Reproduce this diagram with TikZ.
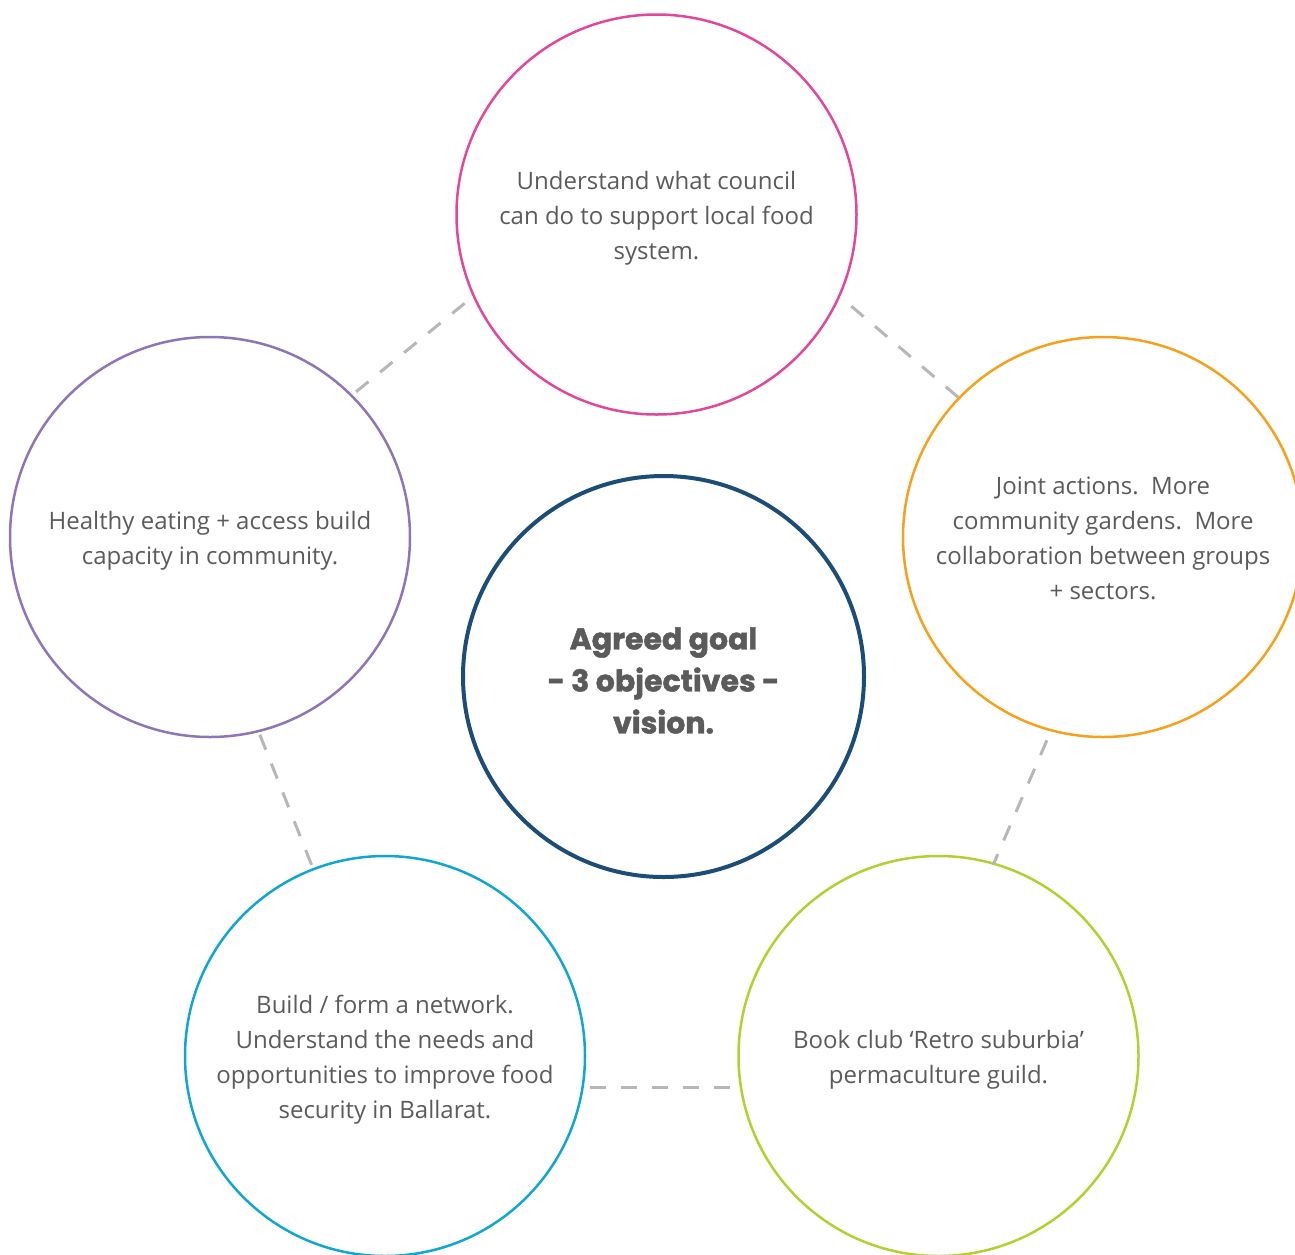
\documentclass[tikz,border=0pt]{standalone}
\usepackage{fontspec}
\setmainfont{Open Sans}
\newfontfamily\headfont{Poppins}[FakeBold=1.6]
\definecolor{txtgray}{HTML}{5B5B5B}
\definecolor{cpink}{HTML}{E2479B}
\definecolor{cpurple}{HTML}{8E75B8}
\definecolor{corange}{HTML}{F5A11C}
\definecolor{cnavy}{HTML}{1B4D76}
\definecolor{ccyan}{HTML}{11A6D2}
\definecolor{clime}{HTML}{B6CE2F}
\definecolor{dashgray}{HTML}{B7B7B7}
\begin{document}
\begin{tikzpicture}[x=1pt,y=-1pt,
  ring/.style={circle,draw,line width=2.5pt,minimum size=400pt,inner sep=0pt,outer sep=0pt},
  hub/.style={ring,line width=4pt,minimum size=401pt},
  note/.style={align=center,text=txtgray,inner sep=0pt,font=\fontsize{24}{35}\selectfont},
  goaltext/.style={note,font=\headfont\bfseries\fontsize{30}{42}\selectfont},
  link/.style={draw=dashgray,line width=3pt,dash pattern=on 16pt off 15pt}]
\useasboundingbox (0,0) rectangle (1295,1254);
\clip (0,0) rectangle (1295,1254);

% outer ring of topics
\node[ring,draw=cpink]   (council) at (656.5,214.5) {};
\node[ring,draw=cpurple] (health)  at (210,537) {};
\node[ring,draw=corange] (joint)   at (1103,537) {};
\node[ring,draw=ccyan]   (network) at (385,1056) {};
\node[ring,draw=clime]   (book)    at (938.5,1056) {};

% central goal
\node[hub,draw=cnavy] (goal) at (663.5,676.5) {};

% texts inside the circles
\node[note] (council-t) at ([yshift=-4pt]council.center) {Understand what council\\can do to support local food\\system.};
\node[note] (health-t)  at ([yshift=-4pt]health.center) {Healthy eating + access build\\capacity in community.};
\node[note] (joint-t)   at ([yshift=-1pt]joint.center) {Joint actions.\ \ More\\community gardens.\ \ More\\collaboration between groups\\+ sectors.};
\node[note] (network-t) at ([yshift=-4pt]network.center) {Build / form a network.\\Understand the needs and\\opportunities to improve food\\security in Ballarat.};
\node[note] (book-t)    at ([yshift=-4pt]book.center) {Book club `Retro suburbia'\\permaculture guild.};
\node[goaltext] (goal-t) at ([yshift=-4pt]goal.center) {Agreed goal\\- 3 objectives -\\vision.};

% dashed links around the ring
\draw[link,shorten <=6pt,shorten >=10pt] (health.45.4) -- (council.204.5);
\draw[link,shorten <=16pt] (council.-24) -- (joint.136.8);
\draw[link,shorten <=11pt] (joint.255.5) -- (book.74.6);
\draw[link,shorten <=4pt,shorten >=4pt] (health.-76.4) -- (network.111.8);
\draw[link,shorten <=7pt,shorten >=8pt] (network.-9.2) -- (book.189.6);
\end{tikzpicture}
\end{document}
